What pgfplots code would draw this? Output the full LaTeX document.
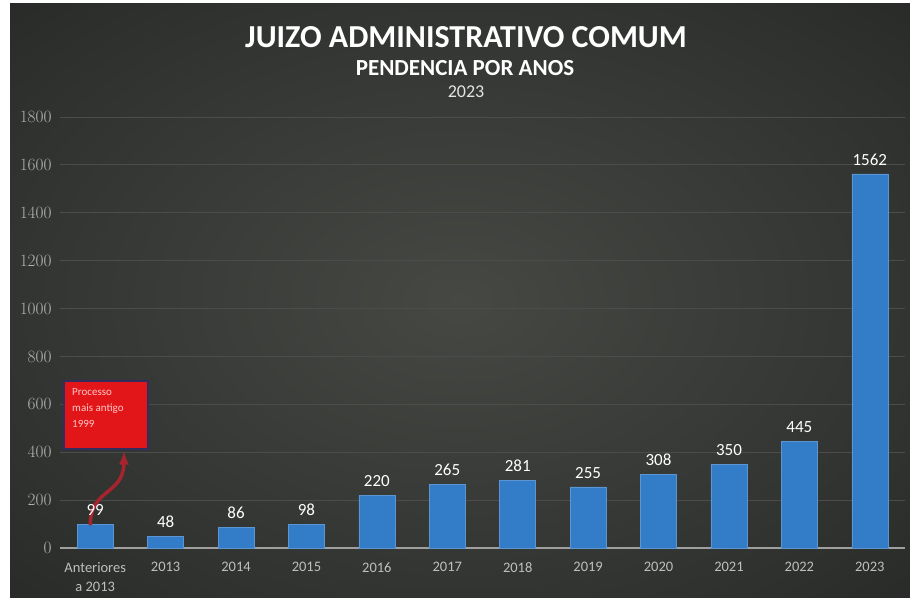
\documentclass[border=0pt]{standalone}
\usepackage{pgfplots}
\pgfplotsset{compat=1.18}
\usepackage{fontspec}
\setmainfont{Carlito}
\definecolor{bgin}{RGB}{70,72,68}
\definecolor{bgmid}{RGB}{46,48,46}
\definecolor{bgout}{RGB}{8,8,8}
\definecolor{barblue}{RGB}{50,124,200}
\definecolor{boxred}{RGB}{226,22,24}
\definecolor{arrowred}{RGB}{165,36,46}
\pgfdeclareradialshading{bgshade}{\pgfpoint{0bp}{0bp}}{color(0bp)=(bgin); color(30bp)=(bgmid); color(72bp)=(bgout)}
\begin{document}
\begin{tikzpicture}[x=1pt,y=1pt]
\fill[white] (0,0) rectangle (910,600);
\fill[shading=bgshade] (10,3) rectangle (910,596);
\node[text=white,font=\fontsize{32}{36}\selectfont\bfseries] at (466,563) {JUIZO ADMINISTRATIVO COMUM};
\node[text=white,font=\fontsize{23}{27}\selectfont\bfseries] at (465,532) {PENDENCIA POR ANOS};
\node[text=white!90!black,font=\fontsize{18}{22}\selectfont] at (466,508) {2023};
\begin{axis}[
  at={(60pt,52pt)}, anchor=south west,
  scale only axis, width=845pt, height=431pt,
  xmin=-0.5, xmax=11.5, ymin=0, ymax=1800,
  axis x line=bottom, axis y line=left,
  x axis line style={draw=gray!75, line width=1.2pt, -},
  y axis line style={draw=none},
  ytick={0,200,...,1800},
  /pgf/number format/1000 sep={},
  ymajorgrids, grid style={draw=white!30!black, line width=0.8pt},
  major tick length=0pt,
  xtick={0,...,11},
  xticklabels={{Anteriores\\a 2013},2013,2014,2015,2016,2017,2018,2019,2020,2021,2022,2023},
  xticklabel style={text=white!75!black, font=\fontsize{14.5}{19}\selectfont, align=center, yshift=-11pt, anchor=north, text depth=0pt},
  yticklabel style={text=white!70!black, font=\fontsize{16}{18}\selectfont, xshift=-5pt},
  ybar, bar width=36pt,
  nodes near coords={\pgfmathprintnumber[assume math mode=true,1000 sep={}]{\pgfplotspointmeta}},
  every node near coord/.append style={text=white, font=\fontsize{17}{19}\selectfont, yshift=5pt},
  clip=false,
]
\addplot[fill=barblue, draw=barblue!80!white, line width=0.6pt] coordinates {
  (0,99) (1,48) (2,86) (3,98) (4,220) (5,265) (6,281) (7,255) (8,308) (9,350) (10,445) (11,1562)
};
\draw[arrowred, line width=3.5pt, -latex] (axis cs:-0.07,95) .. controls (axis cs:-0.07,250) and (axis cs:0.4,220) .. (axis cs:0.41,404);
\node[draw={rgb,255:red,50;green,45;blue,95}, line width=1.6pt, fill=boxred, anchor=north west,
  minimum width=84pt, minimum height=68pt, inner sep=0pt] (box) at (axis cs:-0.457,701) {};
\node[anchor=north west, align=left, text=white!78!red, font=\fontsize{11}{16}\selectfont, inner sep=0pt]
  at ([xshift=9pt,yshift=-8pt]box.north west) {Processo\\mais antigo\\1999};
\end{axis}
\end{tikzpicture}
\end{document}
